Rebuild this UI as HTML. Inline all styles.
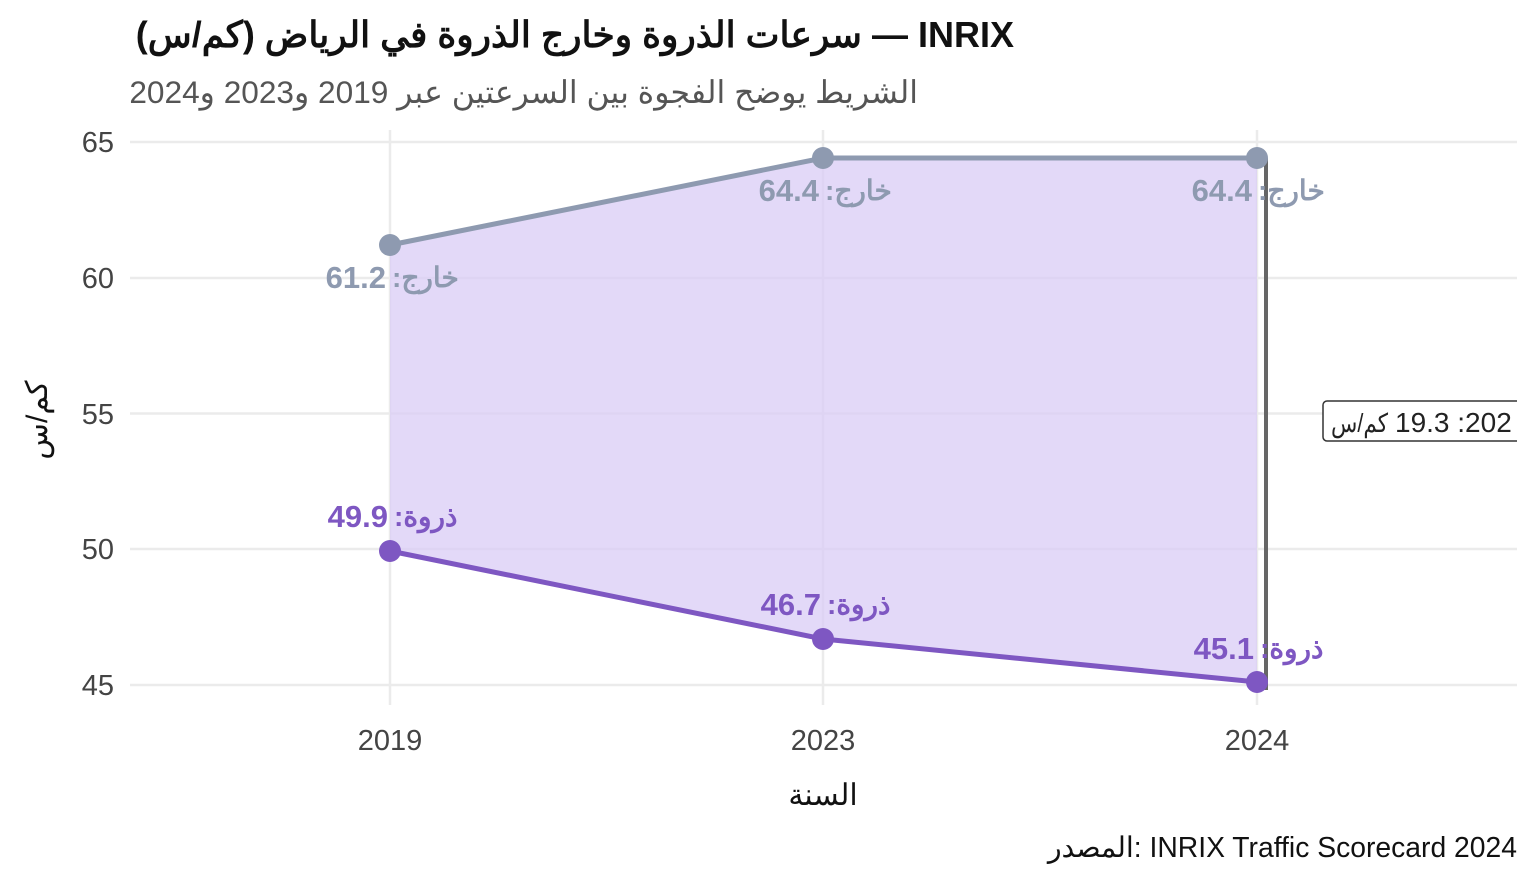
<!DOCTYPE html>
<html><head><meta charset="utf-8"><style>
body{margin:0;background:#fff;width:1536px;height:883px;overflow:hidden;position:relative;font-family:"Liberation Sans","Noto Sans CJK SC",sans-serif}
.t{position:absolute;white-space:nowrap}
</style></head><body>
<div class="t" style="left:100px;width:914px;top:14px;direction:rtl;text-align:right;font-size:36px;font-weight:bold;color:#111">INRIX — سرعات الذروة وخارج الذروة في الرياض (كم/س)</div>
<div class="t" style="left:100px;width:818px;top:74px;direction:rtl;text-align:right;font-size:31.6px;color:#555">الشريط يوضح الفجوة بين السرعتين عبر 2019 و2023 و2024</div>
<svg width="1536" height="883" style="position:absolute;left:0;top:0" font-family="Liberation Sans, WenQuanYi Zen Hei, sans-serif">
<defs><clipPath id="c"><rect x="0" y="0" width="1517" height="883"/></clipPath></defs>
<g stroke="#ebebeb" stroke-width="2.5">
<line x1="130" x2="1517" y1="142" y2="142"/><line x1="130" x2="1517" y1="278" y2="278"/><line x1="130" x2="1517" y1="413.5" y2="413.5"/><line x1="130" x2="1517" y1="549" y2="549"/><line x1="130" x2="1517" y1="685" y2="685"/>
<line x1="390" x2="390" y1="130" y2="705"/><line x1="823" x2="823" y1="130" y2="705"/><line x1="1257" x2="1257" y1="130" y2="705"/>
</g>
<polygon points="390,245 823,158 1257,158 1257,682 823,639 390,551" fill="#d9ccf5" opacity="0.75"/>
<polyline points="390,245 823,158 1257,158" fill="none" stroke="#8e9ab0" stroke-width="5"/>
<polyline points="390,551 823,639 1257,682" fill="none" stroke="#7e57c2" stroke-width="5"/>
<line x1="1266" x2="1266" y1="158" y2="690" stroke="#666" stroke-width="4"/>
<g fill="#8e9ab0"><circle cx="390" cy="245" r="11"/><circle cx="823" cy="158" r="11"/><circle cx="1257" cy="158" r="11"/></g>
<g fill="#7e57c2"><circle cx="390" cy="551" r="11"/><circle cx="823" cy="639" r="11"/><circle cx="1257" cy="682" r="11"/></g>
<g font-weight="bold" fill="#8e9ab0">
<text x="386" y="288" text-anchor="end" font-size="31">61.2</text><text x="392" y="287" font-size="28">:خارج</text>
<text x="819" y="201" text-anchor="end" font-size="31">64.4</text><text x="825" y="200" font-size="28">:خارج</text>
<text x="1252" y="201" text-anchor="end" font-size="31">64.4</text><text x="1258" y="200" font-size="28">:خارج</text>
</g>
<g font-weight="bold" fill="#7e57c2">
<text x="388" y="527" text-anchor="end" font-size="31">49.9</text><text x="394" y="526" font-size="28">:ذروة</text>
<text x="821" y="615" text-anchor="end" font-size="31">46.7</text><text x="827" y="614" font-size="28">:ذروة</text>
<text x="1254" y="659" text-anchor="end" font-size="31">45.1</text><text x="1260" y="658" font-size="28">:ذروة</text>
</g>
<g clip-path="url(#c)">
<rect x="1323" y="401" width="240" height="40" rx="4" fill="#fff" stroke="#333" stroke-width="1.5"/>
<text x="1331" y="432" font-size="26" fill="#222" textLength="57" lengthAdjust="spacingAndGlyphs">كم/س</text>
<text x="1395" y="432" font-size="28" fill="#222">19.3 :202</text>
</g>
<g font-size="29" fill="#444" text-anchor="end">
<text x="114" y="152">65</text><text x="114" y="288">60</text><text x="114" y="424">55</text><text x="114" y="559">50</text><text x="114" y="695">45</text>
</g>
<g font-size="29" fill="#444" text-anchor="middle">
<text x="390" y="750">2019</text><text x="823" y="750">2023</text><text x="1257" y="750">2024</text>
</g>
<text x="823" y="805" font-size="30" fill="#111" text-anchor="middle">السنة</text>
<text transform="translate(47,420) rotate(-90)" font-size="30" fill="#111" text-anchor="middle">كم/س</text>
</svg>
<div class="t" style="right:19px;top:831px;font-size:28.3px;color:#111;direction:ltr">المصدر: INRIX Traffic Scorecard 2024</div>
</body></html>
